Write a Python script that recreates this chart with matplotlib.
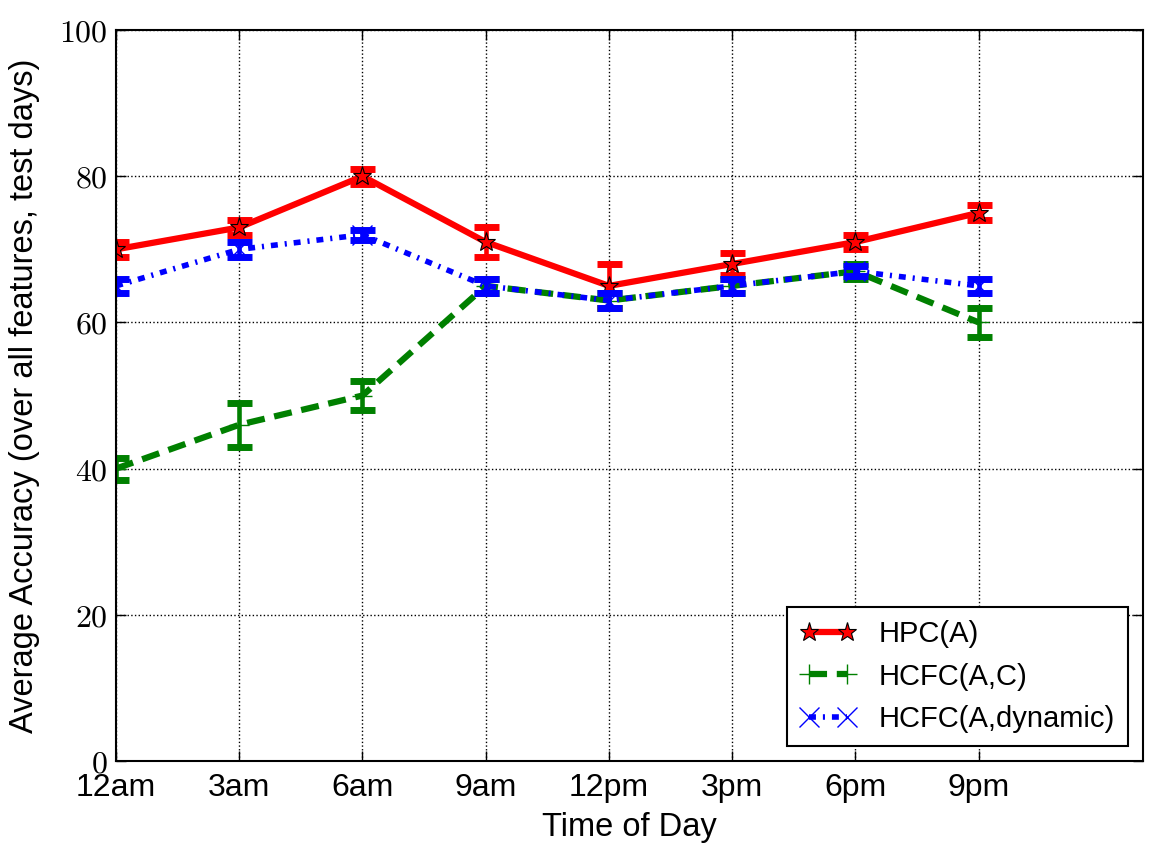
import numpy as np
import matplotlib
matplotlib.use('Agg')
import matplotlib.pyplot as plt
from matplotlib.ticker import FuncFormatter

plt.rcParams['font.family'] = ['Liberation Sans', 'DejaVu Sans']
plt.rcParams['mathtext.fontset'] = 'cm'
plt.rcParams['lines.scale_dashes'] = False

# data
hours = [0, 3, 6, 9, 12, 15, 18, 21]
tick_labels = ['12am', '3am', '6am', '9am', '12pm', '3pm', '6pm', '9pm']

hpc = [70, 73, 80, 71, 65, 68, 71, 75]
hpc_err = [1, 1, 1, 2, 3, 1.5, 1, 1]

hcfc_ac = [40, 46, 50, 65, 63, 65, 67, 60]
hcfc_ac_err = [1.5, 3, 2, 1, 1, 1, 1, 2]

hcfc_dyn = [65, 70, 72, 65, 63, 65, 67, 65]
hcfc_dyn_err = [1, 1, 0.7, 1, 1, 1, 0.7, 1]

fig = plt.figure(figsize=(11.59, 8.59), dpi=100)
ax = fig.add_axes([0.1001, 0.1141, 0.8861, 0.8509])

series = [
    (hpc, hpc_err, 'red', 'HPC(A)',
     dict(lw=4.5, marker='*', ms=14, mfc='red', mec='black', mew=0.8)),
    (hcfc_ac, hcfc_ac_err, 'green', 'HCFC(A,C)',
     dict(lw=4.5, dashes=(13, 7), marker='+', ms=14, mew=1)),
    (hcfc_dyn, hcfc_dyn_err, 'blue', 'HCFC(A,dynamic)',
     dict(lw=4, dashes=(5, 5, 1.5, 5), marker='x', ms=14, mew=1)),
]
for vals, errs, col, lab, style in series:
    ax.errorbar(hours, vals, yerr=errs, fmt='none', ecolor=col,
                elinewidth=3.3, capsize=9, capthick=5)
    ax.plot(hours, vals, color=col, label=lab, **style)

ax.set_xlim(0, 25)
ax.set_ylim(0, 100)
ax.set_xticks(hours)
ax.set_xticklabels(tick_labels, fontsize=23)
ax.set_yticks(np.arange(0, 101, 20))
ax.yaxis.set_major_formatter(FuncFormatter(lambda v, p: f'${int(v)}$'))
for t in ax.get_yticklabels():
    t.set_fontsize(23)
ax.tick_params(direction='in', length=7, width=1, top=True, right=True, pad=6)
ax.tick_params(axis='x', pad=9)
ax.grid(True, color='black', linestyle=':', linewidth=1)
for s in ax.spines.values():
    s.set_linewidth(1.5)

ax.set_xlabel('Time of Day', fontsize=23.5, labelpad=6)
ax.set_ylabel('Average Accuracy (over all features, test days)', fontsize=23.5, labelpad=14)

leg = ax.legend(loc='lower right', numpoints=2, fontsize=21, fancybox=False,
                handlelength=1.9, handletextpad=0.8, borderpad=0.45,
                labelspacing=0.5, borderaxespad=0.5)
leg.get_frame().set_edgecolor('black')
leg.get_frame().set_linewidth(1.5)
leg.get_frame().set_alpha(1)

fig.savefig('out.png', dpi=100)
plt.close(fig)
